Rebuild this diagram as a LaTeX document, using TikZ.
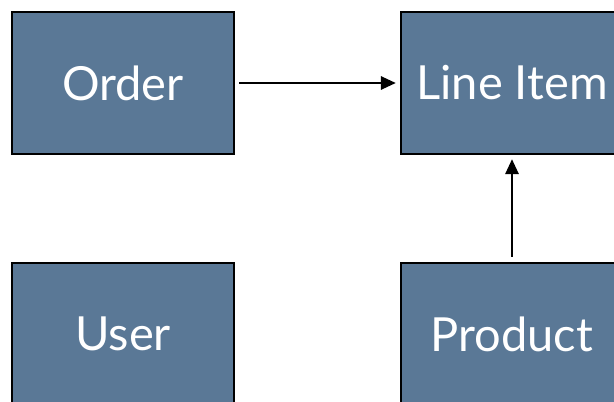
\documentclass[tikz,border=0pt]{standalone}
\usepackage{fontspec}
\setmainfont{Lato}
\usepackage{tikz}
\usetikzlibrary{arrows.meta,positioning}

\definecolor{slate}{HTML}{5A7896}

\begin{document}
\begin{tikzpicture}[x=1pt,y=-1pt]
		\tikzstyle{Entity}	= [rectangle, draw=black, line width=2.2pt, fill=slate, text=white,
		                   minimum width=222pt, minimum height=142pt, inner sep=0pt,
		                   font=\fontsize{47}{50}\selectfont]
		\tikzstyle{Assoc}	= [line width=2.8pt, -{Triangle[length=15pt,width=13pt]}]

		\clip (0,0) rectangle (614,402);
		\useasboundingbox (0,0) rectangle (614,402);

		\node (order) at (123,83) [Entity] {Order};
		\node (item) at (512,83) [Entity] {Line Item};
		\node (user) at (123,334) [Entity] {User};
		\node (product) at (512,334) [Entity] {Product};

		\draw (order) to (item) [Assoc, shorten <=4pt, shorten >=4pt];
		\draw (product) to (item) [Assoc, shorten <=5pt, shorten >=4pt];
	\end{tikzpicture}
\end{document}
